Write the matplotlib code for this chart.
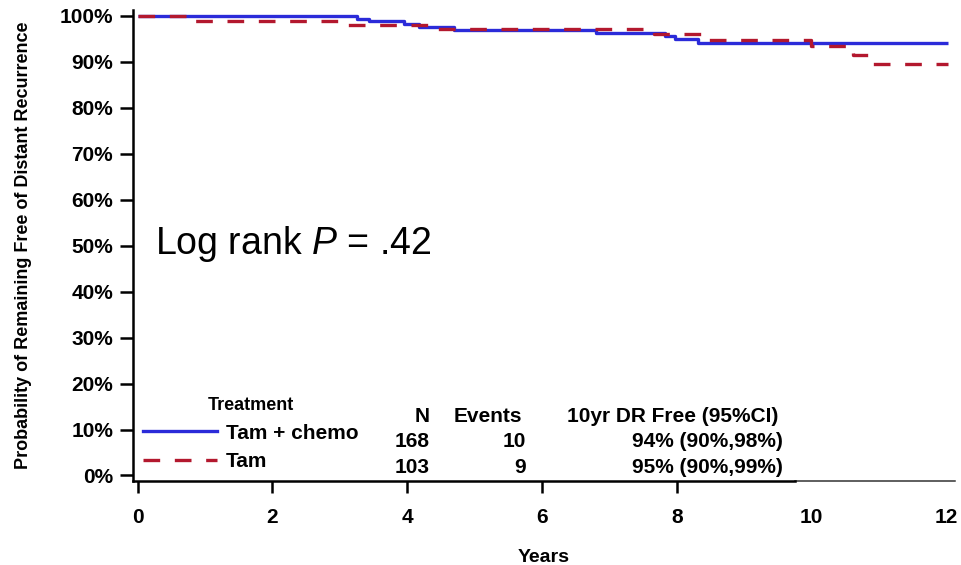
import numpy as np
import matplotlib.pyplot as plt
from matplotlib.lines import Line2D
from matplotlib.ticker import FuncFormatter

plt.rcParams['font.family'] = ['Liberation Sans', 'DejaVu Sans']
plt.rcParams['mathtext.fontset'] = 'custom'
plt.rcParams['mathtext.rm'] = 'Liberation Sans'
plt.rcParams['mathtext.it'] = 'Liberation Sans:italic'

# Kaplan-Meier step curves: event times (years) and survival level after each step (%)
chemo_times = [0.0, 3.25, 3.44, 3.96, 4.18, 4.70, 6.80, 7.82, 7.97, 8.31, 12.03]
chemo_surv = [100.0, 99.4, 98.8, 98.2, 97.6, 97.0, 96.3, 95.6, 94.9, 94.2, 94.2]

tam_times = [0.0, 0.73, 3.07, 4.41, 7.67, 8.46, 10.0, 10.62, 10.88, 12.03]
tam_surv = [100.0, 99.0, 98.1, 97.1, 96.1, 94.8, 93.4, 91.4, 89.5, 89.5]

labels = ['Tam + chemo', 'Tam']
n_patients = [168, 103]
n_events = [10, 9]
dr_free = ['94% (90%,98%)', '95% (90%,99%)']

BLUE = '#2B2BD9'
RED = '#B3182E'
XMIN, XMAX = -0.067, 12.13
YMIN, YMAX = -1.2, 101.3

fig = plt.figure(figsize=(9.61, 5.65), dpi=100)
ax = fig.add_axes([0.1384, 0.1487, 0.8554, 0.8336])

ax.step(chemo_times, chemo_surv, where='post', color=BLUE, lw=2.4,
        solid_capstyle='butt')
ax.step(tam_times, tam_surv, where='post', color=RED, lw=2.4,
        dashes=(5.0, 4.4), dash_capstyle='butt')

ax.set_xlim(XMIN, XMAX)
ax.set_ylim(YMIN, YMAX)
ax.set_xticks(range(0, 13, 2))
ax.set_yticks(range(0, 101, 10))
ax.yaxis.set_major_formatter(FuncFormatter(lambda v, _: f'{v:.0f}%'))

for side in ['top', 'right']:
    ax.spines[side].set_visible(False)
for side in ['left', 'bottom']:
    ax.spines[side].set_linewidth(1.8)
# the heavy baseline stops short of year 10; a thin rule carries on to the end
ax.spines['bottom'].set_bounds(XMIN, 9.76)
ax.plot([9.76, XMAX], [YMIN, YMIN], color='#333333', lw=1.1, clip_on=False)

ax.tick_params(axis='y', length=9.4, width=1.8, direction='out', pad=5)
ax.tick_params(axis='x', length=8.6, width=1.8, direction='out', pad=11)
for tick in ax.xaxis.get_major_ticks()[5:]:
    tick.tick1line.set_visible(False)
for lab in ax.get_xticklabels() + ax.get_yticklabels():
    lab.set_fontsize(15)
    lab.set_fontweight('bold')

ax.set_xlabel('Years', fontsize=14, fontweight='bold', labelpad=16)
ax.set_ylabel('Probability of Remaining Free of Distant Recurrence',
              fontsize=13, fontweight='bold')
ax.yaxis.set_label_coords(-0.123, 0.5)

ax.text(0.0268, 0.503, r'Log rank $\it{P}$ = .42', transform=ax.transAxes,
        fontsize=27, ha='left', va='center')

# legend
handles = [Line2D([], [], color=BLUE, lw=2.4),
           Line2D([], [], color=RED, lw=2.4, dashes=(5.0, 4.4))]
leg = ax.legend(handles, labels, title='Treatment', loc='lower left',
                bbox_to_anchor=(0.012, 0.021), frameon=False,
                handlelength=3.55, handletextpad=0.45, labelspacing=0.45,
                borderaxespad=0, borderpad=0,
                prop={'size': 15, 'weight': 'bold'},
                title_fontproperties={'size': 13, 'weight': 'bold'})

# summary table
rows_y = [0.137, 0.084, 0.028]
header = ['N', 'Events', '10yr DR Free (95%CI)']
header_x = [0.3613, 0.4732, 0.7847]
value_x = [0.3613, 0.4781, 0.7908]
for x, h in zip(header_x, header):
    ax.text(x, rows_y[0], h, transform=ax.transAxes, ha='right', va='center',
            fontsize=15, fontweight='bold')
for i in range(len(labels)):
    vals = [str(n_patients[i]), str(n_events[i]), dr_free[i]]
    for x, v in zip(value_x, vals):
        ax.text(x, rows_y[i + 1], v, transform=ax.transAxes, ha='right',
                va='center', fontsize=15, fontweight='bold')

fig.savefig('out.png', dpi=100)
